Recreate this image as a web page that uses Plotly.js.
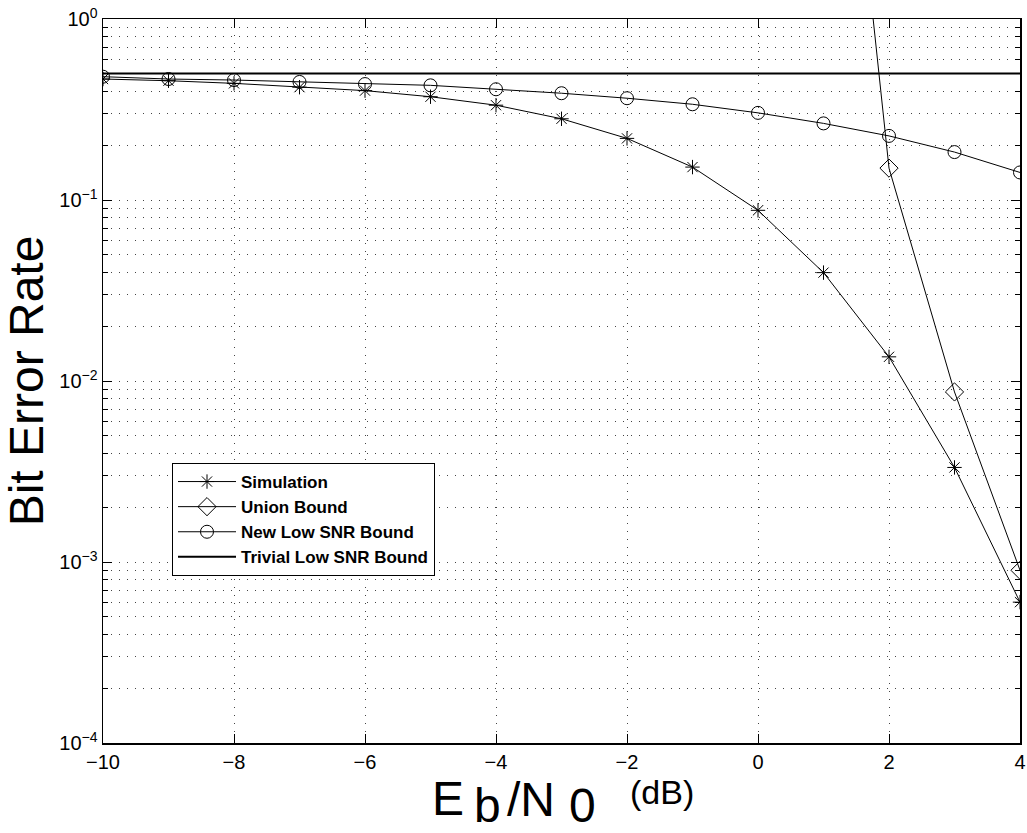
<!DOCTYPE html>
<html>
<head>
<meta charset="utf-8">
<script src="https://cdn.plot.ly/plotly-3.0.1.min.js"></script>
<style>html,body{margin:0;padding:0;background:#fff;}#chart{width:1027px;height:833px;}</style>
</head>
<body>
<div id="chart"></div>
<script>
// Eb/N0 in dB
const snr = [-10, -9, -8, -7, -6, -5, -4, -3, -2, -1, 0, 1, 2, 3, 4];
// Bit error rates
const simulation = [0.466, 0.456, 0.441, 0.420, 0.402, 0.372, 0.334, 0.281, 0.219, 0.152, 0.0877, 0.0397, 0.0136, 0.00333, 0.00060];
const unionSnr = [1, 2, 3, 4];
const unionBound = [380, 0.150, 0.0087, 0.00090];
const newLowSnrBound = [0.480, 0.466, 0.460, 0.449, 0.437, 0.430, 0.409, 0.389, 0.365, 0.338, 0.303, 0.265, 0.226, 0.184, 0.142];
const trivialLowSnrBound = [0.5, 0.5, 0.5, 0.5, 0.5, 0.5, 0.5, 0.5, 0.5, 0.5, 0.5, 0.5, 0.5, 0.5, 0.5];
const seriesNames = ["Simulation", "Union Bound", "New Low SNR Bound", "Trivial Low SNR Bound"];
const yTickVals = [1e-4, 1e-3, 1e-2, 1e-1, 1];
const yTickText = ["10<sup>\u22124</sup>", "10<sup>\u22123</sup>", "10<sup>\u22122</sup>", "10<sup>\u22121</sup>", "10<sup>0</sup>"];
const xTickVals = [-10, -8, -6, -4, -2, 0, 2, 4];
const xTickText = ["\u221210", "\u22128", "\u22126", "\u22124", "\u22122", "0", "2", "4"];

// minor log grid positions (2..9 in each decade)
const yMinor = [];
for (let e = -4; e < 0; e++) for (let m = 2; m <= 9; m++) yMinor.push(m * Math.pow(10, e));

const FONT = "Liberation Sans, Arial, Helvetica, sans-serif";
const lineStyle = {color: "#000", width: 1};

const traces = [
  {x: snr, y: simulation, name: seriesNames[0], mode: "lines+markers", line: lineStyle,
   marker: {symbol: "asterisk-open", size: 12, color: "#000", line: {color: "#000", width: 1}}},
  {x: unionSnr, y: unionBound, name: seriesNames[1], mode: "lines+markers", line: lineStyle,
   marker: {symbol: "diamond-open", size: 14, color: "#000", line: {color: "#000", width: 1}}},
  {x: snr, y: newLowSnrBound, name: seriesNames[2], mode: "lines+markers", line: lineStyle,
   marker: {symbol: "circle-open", size: 13, color: "#000", line: {color: "#000", width: 1}}},
  {x: snr, y: trivialLowSnrBound, name: seriesNames[3], mode: "lines", line: {color: "#000", width: 2}}
];

const PL = 103, PR = 1020, PT = 19, PB = 743;
const px = v => (v - PL) / (PR - PL);
const py = v => (PB - v) / (PB - PT);

const layout = {
  width: 1027, height: 833,
  margin: {l: PL, r: 1027 - PR, t: PT, b: 833 - PB, pad: 0},
  paper_bgcolor: "#fff", plot_bgcolor: "#fff",
  font: {family: FONT, color: "#000", size: 20},
  showlegend: true,
  legend: {x: px(172), y: py(463), xanchor: "left", yanchor: "top",
    bgcolor: "#fff", bordercolor: "#000", borderwidth: 1,
    font: {family: FONT, size: 17, weight: "bold", color: "#000"},
    tracegroupgap: 0, itemwidth: 58},
  xaxis: {
    range: [-10, 4], tickmode: "array", tickvals: xTickVals, ticktext: xTickText,
    ticks: "inside", ticklen: 9, tickcolor: "#000", tickwidth: 1,
    showline: true, linecolor: "#000", linewidth: 1.5, mirror: "ticks",
    showgrid: true, gridcolor: "#444", griddash: "1px,7px", gridwidth: 1,
    zeroline: false, tickfont: {size: 20}, automargin: false
  },
  yaxis: {
    type: "log", range: [-4, 0], tickmode: "array", tickvals: yTickVals, ticktext: yTickText,
    ticks: "inside", ticklen: 9, tickcolor: "#000", tickwidth: 1,
    showline: true, linecolor: "#000", linewidth: 1.5, mirror: "ticks",
    showgrid: true, gridcolor: "#444", griddash: "1px,7px", gridwidth: 1,
    minor: {tickmode: "array", tickvals: yMinor, ticks: "inside", ticklen: 5, tickcolor: "#000",
      showgrid: true, gridcolor: "#444", griddash: "1px,7px", gridwidth: 1},
    zeroline: false, tickfont: {size: 20}, automargin: false,
    title: {text: "Bit Error Rate", font: {size: 48, family: FONT}, standoff: 2}
  },
  annotations: [
    {text: "E", x: px(448), y: py(798), xref: "paper", yref: "paper", xanchor: "center", yanchor: "middle", showarrow: false, font: {size: 48, family: FONT}},
    {text: "b", x: px(487), y: py(806), xref: "paper", yref: "paper", xanchor: "center", yanchor: "middle", showarrow: false, font: {size: 48, family: FONT}},
    {text: "/N", x: px(531), y: py(800), xref: "paper", yref: "paper", xanchor: "center", yanchor: "middle", showarrow: false, font: {size: 48, family: FONT}},
    {text: "0", x: px(582), y: py(806), xref: "paper", yref: "paper", xanchor: "center", yanchor: "middle", showarrow: false, font: {size: 48, family: FONT}},
    {text: "(dB)", x: px(628), y: py(792), xref: "paper", yref: "paper", xanchor: "left", yanchor: "middle", showarrow: false, font: {size: 34, family: FONT}}
  ]
};

Plotly.newPlot("chart", traces, layout, {displayModeBar: false, staticPlot: true});
</script>
</body>
</html>
